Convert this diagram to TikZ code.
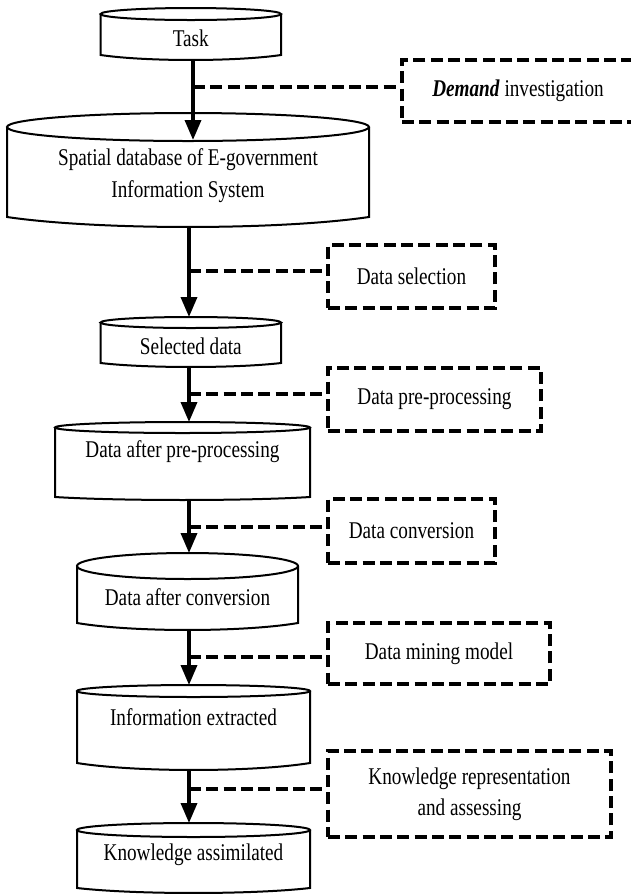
\documentclass[tikz,border=0pt]{standalone}
\usepackage{fontspec}
\setmainfont{Liberation Serif}[FakeStretch=0.8]
\usetikzlibrary{arrows.meta}

\begin{document}
\begin{tikzpicture}[
  x=0.75pt, y=-0.75pt,
  every label text/.style={font=\fontsize{18}{23.5}\selectfont, align=center, inner sep=0pt},
  cylinder edge/.style={draw, line width=1.5pt},
  flow edge/.style={line width=2.6pt, -{Triangle[length=15pt, width=12pt]}},
  tie edge/.style={line width=2.4pt, dash pattern=on 9pt off 4pt},
  stepnote/.style={draw, line width=2.6pt, dash pattern=on 9pt off 4pt, every label text}
]
\useasboundingbox (0,0) rectangle (631,894);
\clip (0,0) rectangle (631,894);

% cylinders: name/left/right/top/bottom/radius/dip/arrow end/text y/text
\foreach \nm/\xl/\xr/\yt/\yb/\ry/\dip/\ya/\ty/\txt in {
  task/100.6/281/8/55/6/5/8/38/Task,
  sdb/7/369/113/217/14/10/140/175.5/{Spatial database of E-government\\Information System},
  seld/100.6/281/317/363/5.5/4/317/346/Selected data,
  dapp/55/310/422/497/5.5/3/422/452/Data after pre-processing,
  dac/77/298/553/623/13/7/553/597/Data after conversion,
  ie/77/310/685/763/6/7/685/717/Information extracted,
  ka/77/310/823/888/7/5/823/855/Knowledge assimilated} {
  \draw[cylinder edge, fill=white] (\xl,\yt+\ry) -- (\xl,\yb)
    .. controls ({\xl+0.25*(\xr-\xl)},{\yb+1.33*\dip}) and ({\xr-0.25*(\xr-\xl)},{\yb+1.33*\dip}) .. (\xr,\yb)
    -- (\xr,\yt+\ry);
  \draw[cylinder edge] ({(\xl+\xr)/2},\yt+\ry) ellipse [x radius={(\xr-\xl)/2}, y radius=\ry];
  \node[every label text] (\nm) at ({(\xl+\xr)/2},\ty) {\txt};
  \coordinate (\nm-top) at ({(\xl+\xr)/2},\ya);
  \coordinate (\nm-bot) at ({(\xl+\xr)/2},\yb+\dip);
}

% steps beside the flow
\node[stepnote, minimum width=174pt, minimum height=46.5pt] (dinv) at (518,91) {\textbf{\textit{Demand}} investigation};
\node[stepnote, minimum width=125.25pt, minimum height=47.25pt] (dsel) at (411.5,276.5) {Data selection};
\node[stepnote, minimum width=159.75pt, minimum height=47.25pt] (dpre) at (434.5,399.5) {Data pre-processing};
\node[stepnote, minimum width=125.25pt, minimum height=48pt] (dconv) at (411.5,531) {Data conversion};
\node[stepnote, minimum width=166.5pt, minimum height=45.75pt] (dmine) at (439,653.5) {Data mining model};
\node[stepnote, minimum width=212.25pt, minimum height=64.5pt] (krep) at (469.5,794) {Knowledge representation\\and assessing};

\foreach \up/\down/\ax/\ty/\nt in {
  task/sdb/193/87/dinv,
  sdb/seld/189/271/dsel,
  seld/dapp/189/394/dpre,
  dapp/dac/189/527/dconv,
  dac/ie/189/657/dmine,
  ie/ka/189/789/krep} {
  \coordinate (\nt-tie) at (\ax,\ty);
  \draw[flow edge] (\up-bot -| \nt-tie) -- (\down-top -| \nt-tie);
  \draw[tie edge] (\nt-tie) -- (\nt-tie -| \nt.west);
}
\end{tikzpicture}
\end{document}
